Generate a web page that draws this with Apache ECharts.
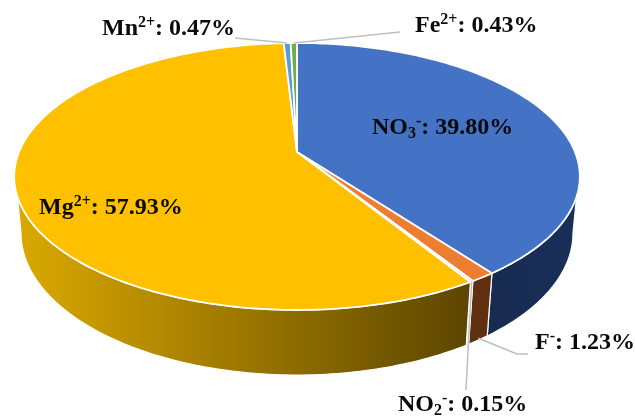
<!DOCTYPE html>
<html>
<head>
<meta charset="utf-8">
<style>html,body{margin:0;padding:0;background:#fff}#chart{width:635px;height:416px}</style>
<script src="https://cdn.jsdelivr.net/npm/echarts@6/dist/echarts.min.js"></script>
</head>
<body>
<div id="chart"></div>
<script>
// Ion shares, clockwise from twelve o'clock
const ionFormula = ['{n|NO}{sub|3}{sup|-}', '{n|F}{sup|-}', '{n|NO}{sub|2}{sup|-}', '{n|Mg}{sup|2+}', '{n|Mn}{sup|2+}', '{n|Fe}{sup|2+}'];
const sharePercent = [39.80, 1.23, 0.15, 57.93, 0.47, 0.43];
const topColors = ['#4472C4', '#ED7D31', '#A5A5A5', '#FFC000', '#5B9BD5', '#70AD47'];
const wallColors = [
  ['#172B50', '#192F58'],
  ['#5F2F10', '#5F2F10'],
  ['#FFFFFF', '#FFFFFF'],
  ['#DAA900', '#5C4500'],
  ['#2F5F8A', '#2F5F8A'],
  ['#3F6427', '#3F6427']
];

// Perspective disc: the far half of the rim is foreshortened, and the
// lower disc sits slightly narrower because verticals converge downward
const TOP = { cx: 297, cy: 152, a: 278, b: 129, k: 0.1835 };
const BOTTOM = { cx: 297, cy: 207, a: 271.3, b: 137.2, k: 0.1835 };
const ARC_STEP = Math.PI / 180;

// Label anchor (left, middle) and leader route from the label to the slice
const labelPlace = [
  { x: 372, y: 128, leader: null },
  { x: 535, y: 343, leader: [[528, 354], [517, 354], 'wall'] },
  { x: 398, y: 405, leader: [[466, 390], 'rim'] },
  { x: 39, y: 208, leader: null },
  { x: 102, y: 29, leader: [[235, 38], 'rim'] },
  { x: 415, y: 26, leader: [[400, 32], 'rim'] }
];

const total = sharePercent.reduce((s, v) => s + v, 0);
const sliceStart = [];
sharePercent.reduce((acc, v, i) => { sliceStart[i] = acc; return acc + v; }, 0);
const toAngle = v => (v / total) * Math.PI * 2;

function project(disc, theta) {
  const c = Math.sin(theta), s = -Math.cos(theta);
  const w = 1 - disc.k * s;
  return [disc.cx + disc.a * c / w, disc.cy + disc.b * s / w];
}
function arc(disc, from, to) {
  const pts = [];
  const n = Math.max(1, Math.ceil((to - from) / ARC_STEP));
  for (let i = 0; i <= n; i++) pts.push(project(disc, from + (to - from) * i / n));
  return pts;
}

// The wall leaves the upper rim lower down than it reaches the lower rim,
// which gives the short straight silhouette on either side
const RAD = Math.PI / 180;
const UPPER_LIMIT = 109 * RAD;
const LOWER_LIMIT = 100.6 * RAD;

function renderWall(params, api) {
  const i = params.dataIndex;
  const a0 = toAngle(sliceStart[i]);
  const a1 = toAngle(sliceStart[i] + api.value(0));
  const upFrom = Math.max(a0, UPPER_LIMIT), upTo = Math.min(a1, Math.PI * 2 - UPPER_LIMIT);
  const lowFrom = Math.max(a0, LOWER_LIMIT), lowTo = Math.min(a1, Math.PI * 2 - LOWER_LIMIT);
  if (upTo <= upFrom) return null;
  const pts = arc(TOP, upFrom, upTo).concat(arc(BOTTOM, lowFrom, lowTo).reverse());
  const xs = pts.map(p => p[0]);
  const fill = new echarts.graphic.LinearGradient(
    Math.min.apply(null, xs), 0, Math.max.apply(null, xs), 0,
    [{ offset: 0, color: wallColors[i][0] }, { offset: 1, color: wallColors[i][1] }], true);
  return {
    type: 'polygon',
    shape: { points: pts },
    style: { fill: fill, stroke: '#fff', lineWidth: 1.2 }
  };
}

function renderTop(params, api) {
  const i = params.dataIndex;
  const from = toAngle(sliceStart[i]);
  const to = toAngle(sliceStart[i] + api.value(0));
  const pts = [[TOP.cx, TOP.cy]].concat(arc(TOP, from, to));
  return {
    type: 'polygon',
    shape: { points: pts },
    style: { fill: topColors[i], stroke: '#fff', lineWidth: 1.8, lineJoin: 'round' }
  };
}

function renderLabel(params, api) {
  const i = params.dataIndex;
  const place = labelPlace[i];
  const mid = toAngle(sliceStart[i] + api.value(0) / 2);
  const children = [];
  if (place.leader) {
    const route = place.leader.map(p => {
      if (p === 'rim') return project(TOP, mid);
      if (p === 'wall') {
        const t = project(TOP, mid), b = project(BOTTOM, mid);
        return [t[0] * 0.03 + b[0] * 0.97, t[1] * 0.03 + b[1] * 0.97];
      }
      return p;
    });
    children.push({
      type: 'polyline',
      shape: { points: route },
      style: { fill: null, stroke: '#BFBFBF', lineWidth: 1.5 }
    });
  }
  children.push({
    type: 'text',
    style: {
      x: place.x,
      y: place.y,
      text: ionFormula[i] + '{n|: ' + api.value(0).toFixed(2) + '%}',
      verticalAlign: 'middle',
      align: 'left',
      rich: {
        n: { fontFamily: 'Liberation Serif', fontWeight: 'bold', fontSize: 24, lineHeight: 28, fill: '#0A0A0A', verticalAlign: 'middle' },
        sup: { fontFamily: 'Liberation Serif', fontWeight: 'bold', fontSize: 16, lineHeight: 22, fill: '#0A0A0A', verticalAlign: 'top' },
        sub: { fontFamily: 'Liberation Serif', fontWeight: 'bold', fontSize: 16, lineHeight: 17, fill: '#0A0A0A', verticalAlign: 'bottom' }
      }
    }
  });
  return { type: 'group', children: children };
}

const chart = echarts.init(document.getElementById('chart'), null, { renderer: 'canvas' });
const seriesData = sharePercent.map(v => [v]);
chart.setOption({
  animation: false,
  backgroundColor: '#fff',
  series: [
    { type: 'custom', coordinateSystem: 'none', silent: true, z: 1, data: seriesData, renderItem: renderWall },
    { type: 'custom', coordinateSystem: 'none', silent: true, z: 2, data: seriesData, renderItem: renderTop },
    { type: 'custom', coordinateSystem: 'none', silent: true, z: 3, data: seriesData, renderItem: renderLabel }
  ]
});
</script>
</body>
</html>
